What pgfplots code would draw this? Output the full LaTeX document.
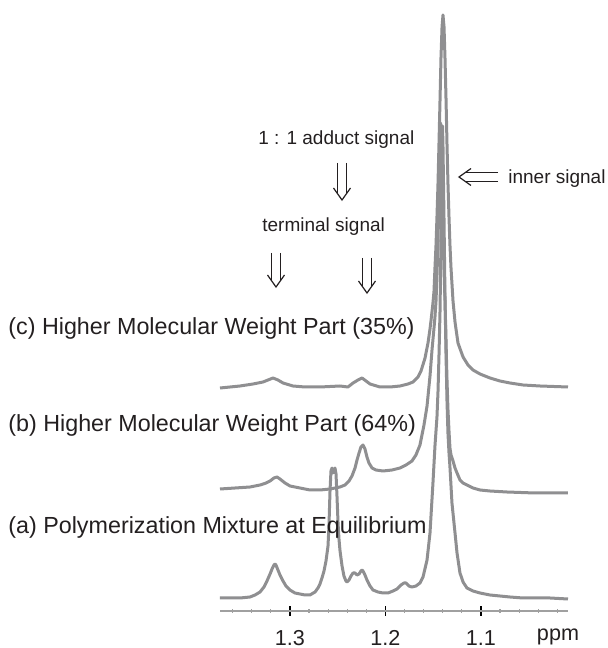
\documentclass[border=0pt]{standalone}
\usepackage{pgfplots}
\pgfplotsset{compat=1.18}
\usepackage{fontspec}
\setmainfont{Liberation Sans}
\definecolor{trace}{RGB}{143,143,145}
\definecolor{ink}{RGB}{35,31,32}
\definecolor{axgray}{RGB}{160,160,160}
\tikzset{spec/.style={draw=trace, line width=1.5pt, line join=round, mark=none}}

% double arrows, drawn in image pixel units
\newcommand{\darrowdown}[3]{% x, y start, y tip
  \draw[ink, line width=0.6pt] (#1-4.5,#2) -- (#1-4.5,#3-6.5) (#1+4.5,#2) -- (#1+4.5,#3-6.5);
  \draw[ink, line width=0.6pt, line join=miter] (#1-8.5,#3-12) -- (#1,#3) -- (#1+8.5,#3-12);}
\newcommand{\darrowleft}[3]{% y, x start, x tip
  \draw[ink, line width=0.6pt] (#2,#1-4.5) -- (#3+6.5,#1-4.5) (#2,#1+4.5) -- (#3+6.5,#1+4.5);
  \draw[ink, line width=0.6pt, line join=miter] (#3+12,#1-8.5) -- (#3,#1) -- (#3+12,#1+8.5);}

\begin{document}
\begin{tikzpicture}
\begin{axis}[at={(0,0)}, anchor=south west, scale only axis,
  width=174pt, height=305.5pt,
  xmin=1.0089, xmax=1.3733, x dir=reverse, ymin=0, ymax=611,
  axis x line*=bottom, hide y axis, clip=false,
  xtick={1.1,1.2,1.3}, xticklabels={1.1,1.2,1.3},
  minor xtick={1.02,1.04,1.06,1.08,1.12,1.14,1.16,1.18,1.22,1.24,1.26,1.28,1.32,1.34,1.36},
  tick align=center, major tick length=5pt, minor tick length=2pt,
  axis line style={draw=axgray, line width=1pt},
  major tick style={draw=black, line width=0.9pt},
  minor tick style={draw=axgray, line width=0.6pt},
  xticklabel style={font=\fontsize{10.8}{12}\selectfont, text=ink, anchor=base, yshift=-14.75pt},
]
% (a) polymerization mixture
\addplot[spec] table {
1.3733 13
1.3628 13
1.3524 13
1.3419 14
1.3366 16
1.3314 19
1.3272 24
1.3241 30
1.3209 37
1.3188 42
1.3168 46
1.3157 47
1.3147 46
1.3126 41
1.3105 36
1.3073 30
1.3042 25
1.3000 21
1.2948 18
1.2895 17
1.2843 16
1.2791 16
1.2738 19
1.2707 23
1.2686 27
1.2665 33
1.2644 40
1.2623 50
1.2602 65
1.2592 85
1.2581 120
1.2571 140
1.2560 143
1.2550 138
1.2539 140
1.2529 143
1.2518 137
1.2508 115
1.2497 88
1.2487 72
1.2476 60
1.2455 45
1.2435 35
1.2414 30
1.2403 29
1.2382 31
1.2361 35
1.2340 38
1.2319 38
1.2298 36
1.2277 37
1.2257 40
1.2246 41
1.2236 40
1.2215 36
1.2194 31
1.2162 25
1.2131 21
1.2079 19
1.2026 18
1.1974 18
1.1921 20
1.1880 22
1.1838 26
1.1806 28
1.1785 28
1.1754 25
1.1723 24
1.1681 25
1.1639 28
1.1607 34
1.1565 51
1.1534 78
1.1503 128
1.1482 165
1.1461 194
1.1450 220
1.1440 255
1.1429 300
1.1419 370
1.1408 450
1.1403 485
1.1398 465
1.1387 390
1.1377 315
1.1366 255
1.1356 210
1.1346 178
1.1335 158
1.1325 144
1.1304 108
1.1272 78
1.1251 58
1.1220 38
1.1188 29
1.1147 23
1.1084 20
1.1010 18
1.0906 16
1.0801 15
1.0696 14
1.0560 13
1.0435 13
1.0277 13
1.0089 12
};
% (b) higher MW part 64%
\addplot[spec] table {
1.3733 122
1.3576 123
1.3419 124
1.3314 126
1.3251 128
1.3209 130
1.3168 133
1.3136 134
1.3105 132
1.3052 128
1.3000 125
1.2895 123
1.2791 121
1.2686 121
1.2581 122
1.2476 124
1.2424 126
1.2382 130
1.2351 135
1.2319 143
1.2298 151
1.2277 158
1.2257 164
1.2236 166
1.2215 162
1.2194 154
1.2173 148
1.2141 143
1.2099 141
1.2026 140
1.1932 141
1.1848 143
1.1785 146
1.1723 150
1.1681 156
1.1639 166
1.1597 186
1.1565 205
1.1534 235
1.1513 261
1.1492 283
1.1482 294
1.1471 310
1.1461 335
1.1450 370
1.1440 420
1.1429 465
1.1424 488
1.1419 478
1.1408 430
1.1398 380
1.1387 340
1.1377 311
1.1366 270
1.1356 231
1.1346 202
1.1335 180
1.1325 163
1.1314 156
1.1293 150
1.1272 143
1.1251 138
1.1220 131
1.1188 128
1.1147 126
1.1084 123
1.1010 121
1.0906 120
1.0728 119
1.0435 118
1.0089 118
};
% (c) higher MW part 35%
\addplot[spec] table {
1.3733 223
1.3524 225
1.3387 227
1.3283 229
1.3230 231
1.3178 233
1.3126 231
1.3073 228
1.2969 225
1.2843 224
1.2686 224
1.2476 225
1.2393 224
1.2340 228
1.2288 231
1.2246 233
1.2204 230
1.2162 227
1.2058 224
1.1953 224
1.1848 225
1.1764 227
1.1712 229
1.1660 234
1.1628 240
1.1586 253
1.1555 268
1.1534 282
1.1524 290
1.1503 308
1.1492 320
1.1482 343
1.1471 366
1.1461 394
1.1450 428
1.1440 467
1.1429 511
1.1419 553
1.1408 584
1.1398 596
1.1387 584
1.1377 553
1.1366 511
1.1356 467
1.1346 428
1.1335 394
1.1325 366
1.1314 343
1.1293 310
1.1272 289
1.1241 268
1.1188 254
1.1136 246
1.1084 241
1.1010 237
1.0906 233
1.0801 230
1.0696 228
1.0560 226
1.0382 225
1.0089 224
};
\end{axis}

\begin{scope}[x=0.5pt, y=-0.5pt, shift={(-110pt,305.5pt)}]
  \begin{scope}[font=\fontsize{11.65}{14}\selectfont, text=ink]
    \node[anchor=base west, inner sep=0] at (8,335) {(c) Higher Molecular Weight Part (35\%)};
    \node[anchor=base west, inner sep=0] at (8,432) {(b) Higher Molecular Weight Part (64\%)};
    \node[anchor=base west, inner sep=0] at (8,534) {(a) Polymerization Mixture at Equilibrium};
  \end{scope}
  \begin{scope}[font=\fontsize{9.5}{11}\selectfont, text=ink]
    \node[anchor=base west, inner sep=0] at (258,144.5) {1 : 1 adduct signal};
    \node[anchor=base west, inner sep=0] at (262,232) {terminal signal};
    \node[anchor=base west, inner sep=0] at (508,183.5) {inner signal};
  \end{scope}
  \node[anchor=base, inner sep=0, font=\fontsize{10.8}{12}\selectfont, text=ink] at (558,640) {ppm};
  \darrowdown{342}{163}{200}
  \darrowdown{276}{253}{287}
  \darrowdown{367}{258}{293}
  \darrowleft{177}{498}{459}
  \pgfresetboundingbox
  \path (0,0) rectangle (608,648);
\end{scope}
\end{tikzpicture}
\end{document}
